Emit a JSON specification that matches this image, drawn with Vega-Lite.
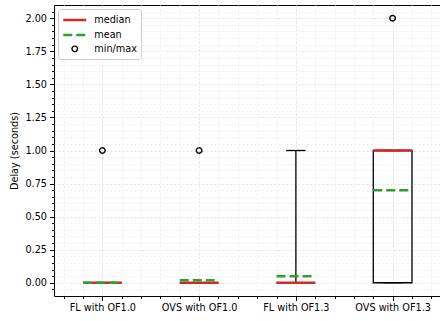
{
  "$schema": "https://vega.github.io/schema/vega-lite/v6.json",
  "width": 387,
  "height": 291,
  "autosize": {"type": "none"},
  "padding": {"left": 54, "top": 5, "right": 0, "bottom": 25},
  "background": "white",
  "config": {
    "view": {"stroke": "black", "strokeWidth": 1},
    "font": "DejaVu Sans",
    "axis": {
      "domain": false,
      "grid": true,
      "gridDash": [2, 2],
      "tickColor": "black",
      "labelColor": "black",
      "labelFont": "DejaVu Sans",
      "labelFontSize": 9.7,
      "titleFont": "DejaVu Sans",
      "titleFontSize": 9.7,
      "titleFontWeight": "normal",
      "titleColor": "black",
      "labelOverlap": false,
      "labelFlush": false
    },
    "legend": {
      "title": null, "orient": "top-left", "offset": 4, "padding": 4,
      "fillColor": "white", "strokeColor": "#cccccc", "cornerRadius": 3,
      "labelFont": "DejaVu Sans", "labelFontSize": 9.7, "labelColor": "black",
      "rowPadding": 3, "labelOffset": 12.5, "symbolOffset": 5.75
    }
  },
  "resolve": {"axis": {"y": "independent"}},
  "datasets": {
    "boxes": [
      {"pos": 1, "q1": 0, "q3": 0, "med": 0, "mean": 0, "wlo": 0, "whi": 0},
      {"pos": 2, "q1": 0, "q3": 0, "med": 0, "mean": 0.02, "wlo": 0, "whi": 0},
      {"pos": 3, "q1": 0, "q3": 0, "med": 0, "mean": 0.05, "wlo": 0, "whi": 1.0},
      {"pos": 4, "q1": 0, "q3": 1.0, "med": 1.0, "mean": 0.7, "wlo": 0, "whi": 1.0}
    ],
    "fliers": [
      {"pos": 1, "val": 1.0, "series": "min/max"},
      {"pos": 2, "val": 1.0, "series": "min/max"},
      {"pos": 4, "val": 2.0, "series": "min/max"}
    ]
  },
  "encoding": {
    "x": {
      "field": "pos", "type": "quantitative",
      "scale": {"domain": [0.5, 4.5], "nice": false, "zero": false},
      "axis": {
        "title": null,
        "values": [0.6, 0.8, 1, 1.2, 1.4, 1.6, 1.8, 2, 2.2, 2.4, 2.6, 2.8, 3, 3.2, 3.4, 3.6, 3.8, 4, 4.2, 4.4],
        "labelExpr": "abs(datum.value-round(datum.value))<0.01 ? ['FL with OF1.0','OVS with OF1.0','FL with OF1.3','OVS with OF1.3'][round(datum.value)-1] : ''",
        "tickSize": {"condition": {"test": "abs(datum.value-round(datum.value))<0.01", "value": 4.5}, "value": 2.5},
        "gridColor": {"condition": {"test": "abs(datum.value-round(datum.value))<0.01", "value": "#e2e2e2"}, "value": "#efefef"},
        "labelPadding": 2
      }
    },
    "y": {
      "field": "q1", "type": "quantitative",
      "scale": {"domain": [-0.1, 2.1], "nice": false, "zero": false},
      "axis": {
        "title": "Delay (seconds)",
        "values": [-0.05, 0, 0.05, 0.1, 0.15, 0.2, 0.25, 0.3, 0.35, 0.4, 0.45, 0.5, 0.55, 0.6, 0.65, 0.7, 0.75, 0.8, 0.85, 0.9, 0.95, 1, 1.05, 1.1, 1.15, 1.2, 1.25, 1.3, 1.35, 1.4, 1.45, 1.5, 1.55, 1.6, 1.65, 1.7, 1.75, 1.8, 1.85, 1.9, 1.95, 2, 2.05],
        "labelExpr": "abs(datum.value*4-round(datum.value*4))<0.001 ? format(datum.value,'.2f') : ''",
        "tickSize": {"condition": {"test": "abs(datum.value*4-round(datum.value*4))<0.001", "value": 4.5}, "value": 2.5},
        "gridColor": {"condition": {"test": "abs(datum.value*4-round(datum.value*4))<0.001", "value": "#e2e2e2"}, "value": "#efefef"},
        "labelPadding": 3,
        "titlePadding": 5
      }
    }
  },
  "layer": [
    {
      "data": {"name": "boxes"},
      "mark": {"type": "rect", "xOffset": -19.35, "x2Offset": 19.35, "fill": "white", "fillOpacity": 0, "stroke": "black", "strokeWidth": 1.3},
      "encoding": {
        "x2": {"field": "pos"},
        "y2": {"field": "q3"}
      }
    },
    {
      "data": {"name": "boxes"},
      "mark": {"type": "rule", "color": "black", "strokeWidth": 1.3},
      "encoding": {
        "y": {"field": "q3", "type": "quantitative", "axis": null},
        "y2": {"field": "whi"}
      }
    },
    {
      "data": {"name": "boxes"},
      "mark": {"type": "rule", "color": "black", "strokeWidth": 1.3},
      "encoding": {
        "y": {"field": "wlo", "type": "quantitative", "axis": null},
        "y2": {"field": "q1"}
      }
    },
    {
      "data": {"name": "boxes"},
      "mark": {"type": "rule", "color": "black", "strokeWidth": 1.3, "xOffset": -9.7, "x2Offset": 9.7},
      "encoding": {
        "x2": {"field": "pos"},
        "y": {"field": "whi", "type": "quantitative", "axis": null}
      }
    },
    {
      "data": {"name": "boxes"},
      "mark": {"type": "rule", "color": "black", "strokeWidth": 1.3, "xOffset": -9.7, "x2Offset": 9.7},
      "encoding": {
        "x2": {"field": "pos"},
        "y": {"field": "wlo", "type": "quantitative", "axis": null}
      }
    },
    {
      "data": {"name": "boxes"},
      "mark": {"type": "rule", "color": "#d62728", "strokeWidth": 2.5, "xOffset": -19.35, "x2Offset": 19.35},
      "encoding": {
        "x2": {"field": "pos"},
        "y": {"field": "med", "type": "quantitative", "axis": null}
      }
    },
    {
      "data": {"name": "boxes"},
      "mark": {"type": "rule", "color": "#2ca02c", "strokeWidth": 2.5, "strokeDash": [9, 4], "xOffset": -19.35, "x2Offset": 19.35},
      "encoding": {
        "x2": {"field": "pos"},
        "y": {"field": "mean", "type": "quantitative", "axis": null}
      }
    },
    {
      "data": {"name": "fliers"},
      "mark": {"type": "point", "filled": false, "opacity": 1},
      "encoding": {
        "y": {"field": "val", "type": "quantitative", "axis": null},
        "color": {
          "field": "series", "type": "nominal",
          "scale": {"domain": ["median", "mean", "min/max"], "range": ["#d62728", "#2ca02c", "black"]},
          "legend": {"title": null}
        },
        "shape": {
          "field": "series", "type": "nominal",
          "scale": {"domain": ["median", "mean", "min/max"], "range": ["M-2,0H2", "M-2,0H2", "circle"]},
          "legend": {"title": null}
        },
        "strokeDash": {
          "field": "series", "type": "nominal",
          "scale": {"domain": ["median", "mean", "min/max"], "range": [[1, 0], [9, 4], [1, 0]]},
          "legend": {"title": null}
        },
        "size": {
          "field": "series", "type": "nominal",
          "scale": {"type": "ordinal", "domain": ["median", "mean", "min/max"], "range": [132, 132, 30]},
          "legend": {"title": null}
        },
        "strokeWidth": {
          "field": "series", "type": "nominal",
          "scale": {"type": "ordinal", "domain": ["median", "mean", "min/max"], "range": [2.5, 2.5, 1.4]},
          "legend": {"title": null}
        }
      }
    }
  ]
}
